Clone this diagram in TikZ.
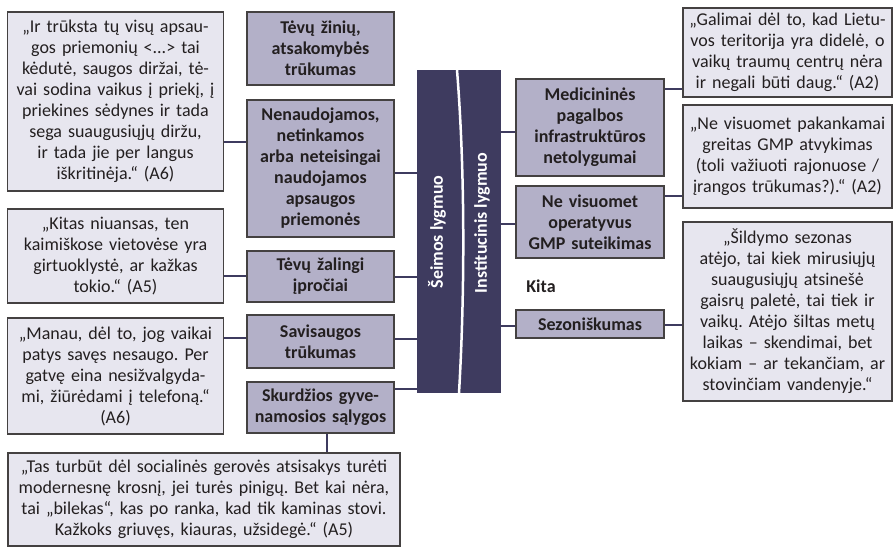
\documentclass[tikz,border=0pt]{standalone}
\usepackage{fontspec}
\setmainfont{Carlito}
\frenchspacing
\usetikzlibrary{positioning}
\usetikzlibrary{calc}
\definecolor{barcol}{HTML}{3E3B5F}
\definecolor{causecol}{HTML}{B3B0C8}
\definecolor{quotecol}{HTML}{E7E6EF}
\definecolor{inkcol}{HTML}{231F20}
\tikzset{box/.style={draw=inkcol!85, line width=1.3pt, inner sep=0pt, align=center, text=inkcol, font=\fontsize{18}{21}\selectfont}}
\tikzset{quote/.style={box, fill=quotecol}}
\tikzset{cause/.style={box, fill=causecol, font=\fontsize{18}{21}\selectfont\bfseries}}
\tikzset{link/.style={draw=barcol, line width=1.2pt}}
\tikzset{lvl/.style={rotate=90, text=white, inner sep=0pt, font=\fontsize{18}{21}\selectfont\bfseries}}

\begin{document}
\begin{tikzpicture}[x=1pt, y=-1pt]
\useasboundingbox (0,0) rectangle (896,547);

% central bar
\node[fill=barcol, minimum width=84pt, minimum height=323pt, inner sep=0pt] (bar) at (459, 231.5) {};
\draw[white, line width=2.5pt] (457,70) .. controls (465,170) and (465,290) .. (459,393);
\node[lvl] (fam) at (437, 232) {Šeimos lygmuo};
\node[lvl] (inst) at (482, 223) {Institucinis lygmuo};

% family level
\node[cause, text width=147pt, minimum height=73pt] (c1) at (320.5, 48.5) {Tėvų žinių,\\atsakomybės\\trūkumas};
\node[cause, text width=147pt, minimum height=137pt] (c2) at (320.5, 168.5) {Nenaudojamos,\\netinkamos\\arba neteisingai\\naudojamos\\apsaugos\\priemonės};
\node[cause, text width=147pt, minimum height=51pt] (c3) at (320.5, 276.5) {Tėvų žalingi\\įpročiai};
\node[cause, text width=147pt, minimum height=53pt] (c4) at (320.5, 341.5) {Savisaugos\\trūkumas};
\node[cause, text width=147pt, minimum height=51pt] (c5) at (320.5, 407.5) {Skurdžios gyve-\\namosios sąlygos};

\node[quote, text width=216pt, minimum height=179pt] (q1) at (115.5, 101.5) {„Ir trūksta tų visų apsau-\\gos priemonių <...> tai\\kėdutė, saugos diržai, tė-\\vai sodina vaikus į priekį, į\\priekines sėdynes ir tada\\sega suaugusiųjų diržu,\\ir tada jie per langus\\iškritinėja.“ (A6)};
\node[quote, text width=216pt, minimum height=94pt] (q2) at (115.5, 256) {„Kitas niuansas, ten\\kaimiškose vietovėse yra\\girtuoklystė, ar kažkas\\tokio.“ (A5)};
\node[quote, text width=216pt, minimum height=116pt] (q3) at (115.5, 376) {„Manau, dėl to, jog vaikai\\patys savęs nesaugo. Per\\gatvę eina nesižvalgyda-\\mi, žiūrėdami į telefoną.“\\(A6)};
\node[quote, text width=392pt, minimum height=93pt] (q4) at (204, 499.5) {„Tas turbūt dėl socialinės gerovės atsisakys turėti\\modernesnę krosnį, jei turės pinigų. Bet kai nėra,\\tai „bilekas“, kas po ranka, kad tik kaminas stovi.\\Kažkoks griuvęs, kiauras, užsidegė.“ (A5)};

% institutional level
\node[cause, text width=148pt, minimum height=97pt] (m1) at (590, 127.5) {Medicininės\\pagalbos\\infrastruktūros\\netolygumai};
\node[cause, text width=148pt, minimum height=72pt] (m2) at (590, 222) {Ne visuomet\\operatyvus\\GMP suteikimas};
\node[font=\fontsize{18}{21}\selectfont\bfseries, text=inkcol] (kita) at (541, 286) {Kita};
\node[cause, text width=148pt, minimum height=28pt] (s1) at (590, 324) {Sezoniškumas};

\node[quote, text width=209pt, minimum height=89pt] (r1) at (787.5, 52.5) {„Galimai dėl to, kad Lietu-\\vos teritorija yra didelė, o\\vaikų traumų centrų nėra\\ir negali būti daug.“ (A2)};
\node[quote, text width=209pt, minimum height=103pt] (r2) at (787.5, 156.5) {„Ne visuomet pakankamai\\greitas GMP atvykimas\\(toli važiuoti rajonuose /\\įrangos trūkumas?).“ (A2)};
\node[quote, text width=209pt, minimum height=179pt] (r3) at (787.5, 311.5) {„Šildymo sezonas\\atėjo, tai kiek mirusiųjų\\suaugusiųjų atsinešė\\gaisrų paletė, tai tiek ir\\vaikų. Atėjo šiltas metų\\laikas – skendimai, bet\\kokiam – ar tekančiam, ar\\stovinčiam vandenyje.“};

% connectors
\draw[link] (q1.east |- 0,142) -- (c2.west |- 0,142);
\draw[link] (q2.east |- 0,276) -- (c3.west |- 0,276);
\draw[link] (q3.east |- 0,338) -- (c4.west |- 0,338);
\draw[link] (c5.south -| 327,0) -- (q4.north -| 327,0);

\draw[link] (c2.east |- 0,173) -- (bar.west |- 0,173);
\draw[link] (c3.east |- 0,277) -- (bar.west |- 0,277);
\draw[link] (c4.east |- 0,339) -- (bar.west |- 0,339);
\draw[link] (c5.east |- 0,389) -- (bar.west |- 0,389);

\draw[link] (bar.east |- 0,132) -- (m1.west |- 0,132);
\draw[link] (bar.east |- 0,224) -- (m2.west |- 0,224);
\draw[link] (bar.east |- 0,326) -- (s1.west |- 0,326);

\draw[link] (m1.east |- 0,89) -- (r1.west |- 0,89);
\draw[link] (m2.east |- 0,196) -- (r2.west |- 0,196);
\draw[link] (s1.east |- 0,325) -- (r3.west |- 0,325);
\end{tikzpicture}
\end{document}
